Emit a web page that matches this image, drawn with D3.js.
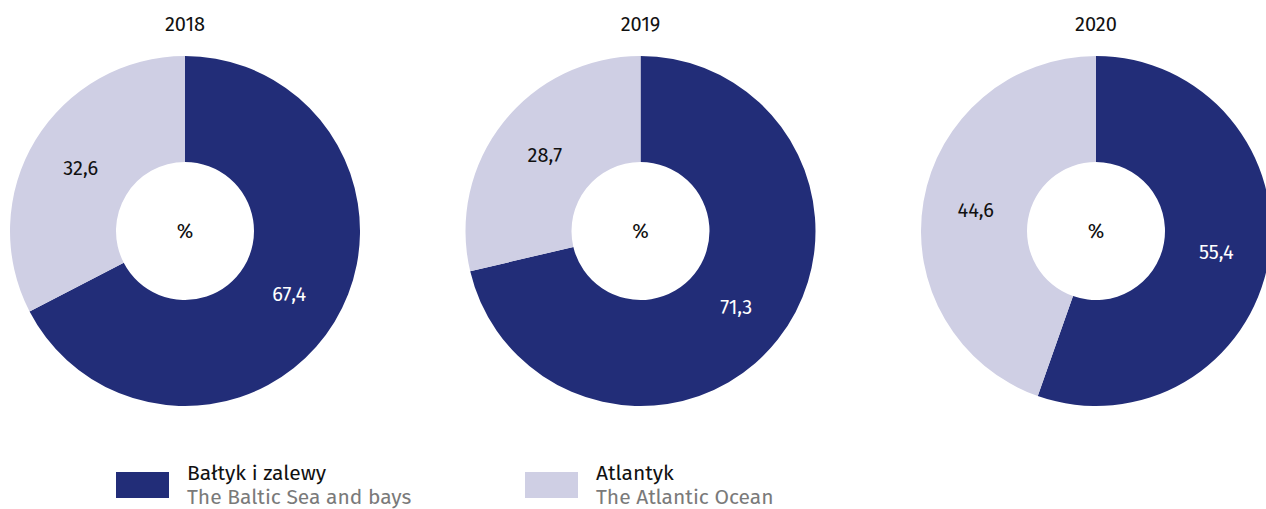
<!DOCTYPE html>
<html>
<head>
<meta charset="utf-8">
<script src="https://cdn.jsdelivr.net/npm/d3@7"></script>
<style>
  body { margin: 0; background: #fff; }
  svg { font-family: "Fira Sans", "Noto Sans", sans-serif; }
</style>
</head>
<body>
<div id="chart"></div>
<script>
var years = ['2018', '2019', '2020'];
var baltic = [67.4, 71.3, 55.4];
var atlantic = [32.6, 28.7, 44.6];
var seriesPl = ['Bałtyk i zalewy', 'Atlantyk'];
var seriesEn = ['The Baltic Sea and bays', 'The Atlantic Ocean'];
var colors = ['#222d78', '#cfcfe4'];
var labelColors = ['#ffffff', '#111111'];

var width = 1266, height = 509;
var svg = d3.select('#chart').append('svg')
  .attr('width', width)
  .attr('height', height);

var centers = d3.scalePoint().domain(years).range([185, 1096]);
var outerR = 175, innerR = 69, cy = 231;

var pie = d3.pie().sort(null).value(function (d) { return d; });
var arc = d3.arc().innerRadius(innerR).outerRadius(outerR);

function fmt (v) {
  return d3.format('.1f')(v).replace('.', ',');
}

years.forEach(function (year, i) {
  var g = svg.append('g')
    .attr('transform', 'translate(' + centers(year) + ',' + cy + ')');

  var arcs = pie([baltic[i], atlantic[i]]);

  g.selectAll('path')
    .data(arcs)
    .enter()
    .append('path')
    .attr('d', arc)
    .style('fill', function (d, j) { return colors[j]; });

  g.selectAll('.lbl')
    .data(arcs)
    .enter()
    .append('text')
    .attr('class', 'lbl')
    .attr('transform', function (d) { return 'translate(' + arc.centroid(d) + ')'; })
    .attr('text-anchor', 'middle')
    .attr('dy', '0.35em')
    .style('font-size', '20px')
    .style('fill', function (d, j) { return labelColors[j]; })
    .text(function (d) { return fmt(d.data); });

  g.append('text')
    .attr('text-anchor', 'middle')
    .attr('dy', '0.35em')
    .style('font-size', '20px')
    .style('fill', '#111')
    .text('%');

  svg.append('text')
    .attr('x', centers(year))
    .attr('y', 24)
    .attr('text-anchor', 'middle')
    .attr('dy', '0.35em')
    .style('font-size', '20px')
    .style('fill', '#111')
    .text(year);
});

var legendX = [116, 525];
seriesPl.forEach(function (name, j) {
  var lg = svg.append('g').attr('transform', 'translate(' + legendX[j] + ',472)');
  lg.append('rect')
    .attr('width', 53)
    .attr('height', 26)
    .style('fill', colors[j]);
  lg.append('text')
    .attr('x', 71)
    .attr('y', 8)
    .style('font-size', '21px')
    .style('fill', '#111')
    .text(name);
  lg.append('text')
    .attr('x', 71)
    .attr('y', 32)
    .style('font-size', '21px')
    .style('fill', '#7a7a7a')
    .text(seriesEn[j]);
});
</script>
</body>
</html>
